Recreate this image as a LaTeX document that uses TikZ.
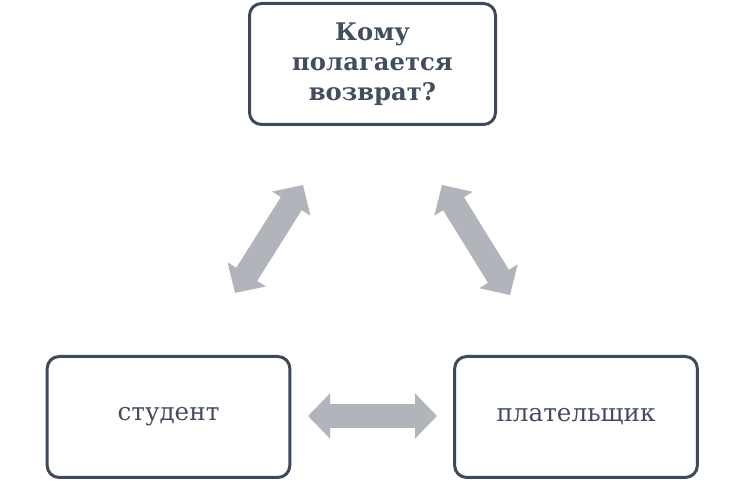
\documentclass[tikz,border=0pt]{standalone}
\usepackage{fontspec}
\setmainfont{DejaVu Serif}
\usepackage{tikz}
\usetikzlibrary{arrows.meta}
\definecolor{boxline}{HTML}{3E4A5B}
\definecolor{boxtext}{HTML}{434E5D}
\definecolor{arrowfill}{HTML}{B1B4BA}
\begin{document}
\begin{tikzpicture}[x=0.75pt,y=-0.75pt,
    box/.style={draw=boxline,line width=2.25pt,rounded corners=9pt,
      minimum width=182pt,minimum height=90.75pt,text=boxtext,align=center},
    bigarrow/.style={draw=arrowfill,line width=18.5pt,
      {Triangle[length=16.5pt,width=33pt]}-{Triangle[length=16.5pt,width=33pt]}}]
  \useasboundingbox (0,0) rectangle (744,481);
  % who gets the refund
  \node[box,minimum width=184.5pt,font=\bfseries\fontsize{18.2}{22.5}\selectfont]
    (refund) at (372.5,64) {Кому\\полагается\\возврат?};
  \node[box,font=\fontsize{18.5}{21}\selectfont] (student) at (168.5,417) {студент};
  \node[box,font=\fontsize{18.5}{21}\selectfont] (payer) at (576,417) {плательщик};
  % arrow ends
  \coordinate (ls) at (235,293);
  \coordinate (le) at (303,185);
  \coordinate (rs) at (442,185);
  \coordinate (re) at (510,295);
  \coordinate (bs) at (308,416);
  \coordinate (be) at (437,416);
  \draw[bigarrow] (ls) -- (le);
  \draw[bigarrow] (rs) -- (re);
  \draw[bigarrow] (bs) -- (be);
\end{tikzpicture}
\end{document}
